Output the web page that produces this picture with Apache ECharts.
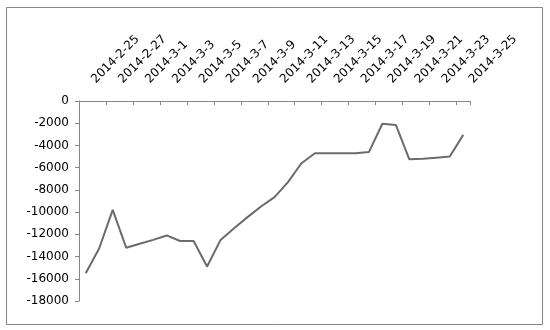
<!DOCTYPE html>
<html>
<head>
<meta charset="utf-8">
<script src="https://cdn.jsdelivr.net/npm/echarts@6/dist/echarts.min.js"></script>
<style>
html,body{margin:0;padding:0;background:#fff;}
#chart{width:550px;height:330px;}
</style>
</head>
<body>
<div id="chart"></div>
<script>
var categories = [
  '2014-2-25','2014-2-26','2014-2-27','2014-2-28',
  '2014-3-1','2014-3-2','2014-3-3','2014-3-4','2014-3-5','2014-3-6','2014-3-7',
  '2014-3-8','2014-3-9','2014-3-10','2014-3-11','2014-3-12','2014-3-13','2014-3-14',
  '2014-3-15','2014-3-16','2014-3-17','2014-3-18','2014-3-19','2014-3-20','2014-3-21',
  '2014-3-22','2014-3-23','2014-3-24','2014-3-25'
];
var values = [
  -15500, -13250, -9800, -13200, -12850, -12500, -12100, -12600, -12600, -14900,
  -12500, -11450, -10450, -9500, -8650, -7300, -5600, -4700, -4700, -4700,
  -4700, -4600, -2050, -2150, -5250, -5200, -5100, -5000, -3050
];
var yMin = -18000, yMax = 0, yStep = 2000;

var chart = echarts.init(document.getElementById('chart'), null, {renderer: 'canvas'});
chart.setOption({
  animation: false,
  backgroundColor: '#fff',
  graphic: [{
    type: 'rect',
    shape: {x: 6.5, y: 7.5, width: 536, height: 317},
    style: {fill: 'none', stroke: '#868686', lineWidth: 1},
    silent: true
  }],
  grid: {left: 79, right: 80, top: 101, bottom: 29, containLabel: false},
  xAxis: {
    type: 'category',
    position: 'top',
    data: categories,
    boundaryGap: true,
    axisLine: {show: true, onZero: false, lineStyle: {color: '#868686', width: 1}},
    axisTick: {show: true, inside: true, length: 4, interval: 1, lineStyle: {color: '#868686'}},
    axisLabel: {
      interval: 1, rotate: -45, margin: 12, padding: [0, 0, 0, 11],
      fontFamily: 'DejaVu Sans', fontSize: 12, color: '#000'
    },
    splitLine: {show: false}
  },
  yAxis: {
    type: 'value',
    min: yMin, max: yMax, interval: yStep,
    axisLine: {show: true, lineStyle: {color: '#868686', width: 1}},
    axisTick: {show: true, inside: false, length: 4, lineStyle: {color: '#868686'}},
    axisLabel: {
      margin: 10, fontFamily: 'DejaVu Sans', fontSize: 12, color: '#000',
      formatter: function (v) { return String(v); }
    },
    splitLine: {show: false}
  },
  series: [{
    type: 'line',
    data: values,
    symbol: 'none',
    lineStyle: {color: '#6b6b6b', width: 2},
    z: 3
  }]
});
</script>
</body>
</html>
